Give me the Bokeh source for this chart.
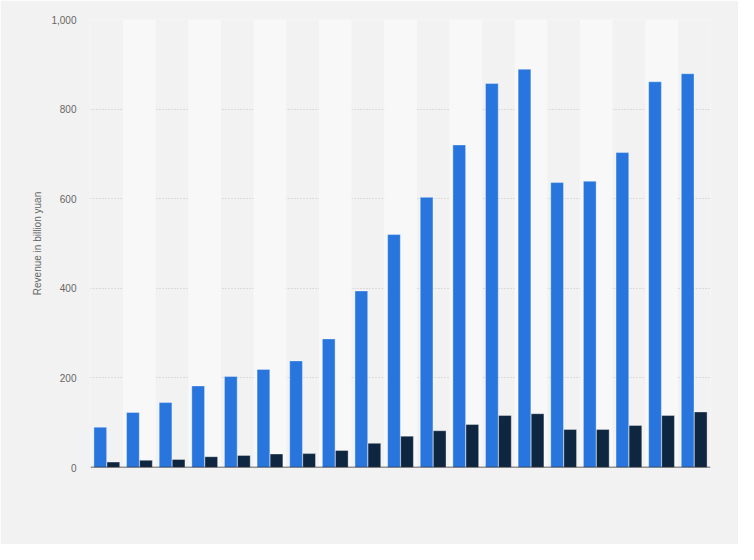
from bokeh.plotting import figure
from bokeh.models import FactorRange, Range1d, Span, NumeralTickFormatter, FixedTicker
from bokeh.transform import dodge
from bokeh.embed import file_html
from bokeh.resources import INLINE

categories = [str(i) for i in range(1, 20)]
revenue_total = [90, 123, 145, 182, 203, 219, 238, 287, 394, 520, 603, 720, 857, 889, 636, 639, 703, 861, 879]
revenue_second = [12, 16, 18, 24, 27, 30, 31, 38, 54, 70, 82, 96, 116, 120, 85, 85, 94, 116, 124]
y_ticks = [0, 200, 400, 600, 800, 1000]

BG = "#f2f2f2"
BAND = "#f8f8f8"

p = figure(x_range=FactorRange(*categories), y_range=Range1d(0, 1000),
           width=738, height=544, output_backend="svg", toolbar_location=None,
           min_border_left=90, min_border_right=28, min_border_top=19, min_border_bottom=77)
p.background_fill_color = BG
p.border_fill_color = BG
p.outline_line_color = None

# alternating column bands
band_cats = categories[1::2]
p.vbar(x=band_cats, top=[y_ticks[-1]] * len(band_cats), bottom=0, width=1.0,
       fill_color=BAND, line_color=None)

p.vbar(x=dodge("x", -0.2, range=p.x_range), top="top", width=0.39,
       source={"x": categories, "top": revenue_total},
       fill_color="#2876dd", line_color="#ffffff", line_alpha=0.35, line_width=1)
p.vbar(x=dodge("x", 0.2, range=p.x_range), top="top", width=0.39,
       source={"x": categories, "top": revenue_second},
       fill_color="#0f2640", line_color="#ffffff", line_alpha=0.35, line_width=1)

p.add_layout(Span(location=0, dimension="width", line_color="#333333", line_width=1.5))

p.xaxis.visible = False
p.xgrid.grid_line_color = None

ax = p.yaxis[0]
ax.ticker = FixedTicker(ticks=y_ticks)
ax.formatter = NumeralTickFormatter(format="0,0")
ax.axis_line_color = None
ax.major_tick_line_color = None
ax.major_tick_out = 0
ax.major_tick_in = 0
ax.minor_tick_line_color = None
ax.minor_tick_out = 0
ax.major_label_standoff = 14
ax.major_label_text_font = "Liberation Sans"
ax.major_label_text_font_size = "10px"
ax.major_label_text_color = "#666666"
ax.axis_label = "Revenue in billion yuan"
ax.axis_label_text_font = "Liberation Sans"
ax.axis_label_text_font_size = "10px"
ax.axis_label_text_font_style = "normal"
ax.axis_label_text_color = "#666666"
ax.axis_label_standoff = 5

p.ygrid.ticker = FixedTicker(ticks=y_ticks[1:])
p.ygrid.grid_line_color = "#c4c4c4"
p.ygrid.grid_line_dash = "1 2"
p.ygrid.grid_line_width = 1

open("out.html", "w").write(file_html(p, INLINE))
